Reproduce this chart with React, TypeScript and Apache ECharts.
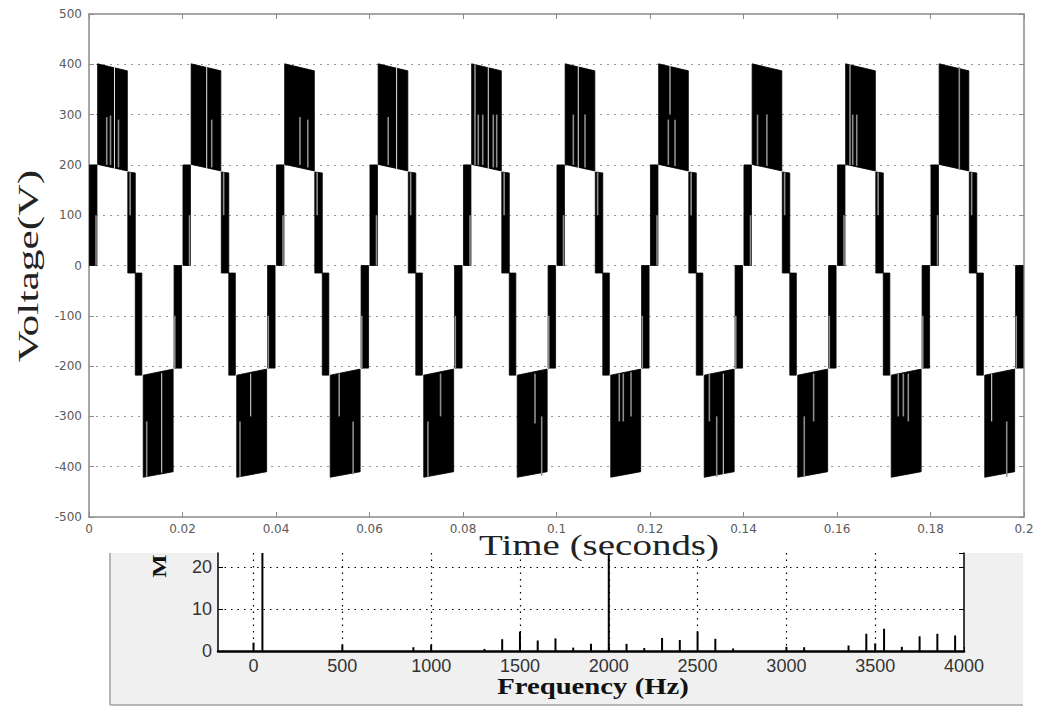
import React, { useEffect, useRef } from "react";
import * as echarts from "echarts";

// ---------- Top panel: 5-level inverter output voltage ----------
const cycleStarts = [0, 0.02, 0.04, 0.06, 0.08, 0.1, 0.12, 0.14, 0.16, 0.18];
// switching bands within one fundamental period:
// [tStart, tEnd, lowStart, highStart, lowEnd, highEnd]
const bandsPerCycle = [
  [0.0001, 0.0017, 0, 200, 0, 200],
  [0.00185, 0.0082, 201, 401, 188, 387],
  [0.0083, 0.0099, -15, 186, -15, 184],
  [0.0099, 0.0113, -218, -15, -218, -15],
  [0.0116, 0.018, -421, -218, -410, -206],
  [0.0182, 0.0198, -204, 0, -204, 0],
];
// light streaks at band edges, every cycle: [t, low, high, shade]
const edgeStreaks = [
  [0.0015, 0, 100, 0],
  [0.0088, 100, 185, 0],
  [0.01835, -204, -100, 0],
];
// streaks inside the +/-400 V blocks, per cycle: [t (in cycle), low, high, shade 0=gray 1=white]
const cycleStreaks = [
  [[0.00379, 200, 295, 0], [0.0046, 200, 298, 0], [0.00545, 192, 398, 1], [0.00631, 195, 290, 0], [0.01234, -420, -310, 0], [0.01555, -412, -214, 1]],
  [[0.00518, 192, 398, 1], [0.00625, 195, 290, 0], [0.0123, -420, -310, 0], [0.01459, -300, -215, 1]],
  [[0.00513, 200, 295, 1], [0.0068, 195, 290, 0], [0.0135, -300, -215, 1], [0.0165, -415, -310, 0]],
  [[0.004, 200, 295, 0], [0.0058, 192, 398, 1], [0.0125, -420, -310, 0], [0.0152, -300, -215, 0]],
  [[0.00257, 200, 400, 0], [0.00327, 200, 300, 0], [0.00422, 200, 300, 0], [0.00541, 192, 398, 1], [0.00648, 195, 300, 0], [0.00721, 195, 300, 0], [0.0154, -314, -215, 1], [0.01683, -418, -300, 0]],
  [[0.0036, 200, 300, 0], [0.00466, 192, 398, 1], [0.0061, 195, 300, 0], [0.01343, -310, -215, 0], [0.01429, -310, -215, 0], [0.01594, -300, -212, 0]],
  [[0.00392, 200, 290, 0], [0.00428, 300, 400, 1], [0.00535, 198, 290, 0], [0.0127, -310, -215, 0], [0.01427, -420, -300, 0], [0.01568, -418, -215, 1]],
  [[0.003, 200, 300, 0], [0.005, 198, 300, 0], [0.013, -420, -300, 0], [0.015, -310, -215, 0]],
  [[0.00278, 200, 400, 0], [0.00336, 200, 300, 0], [0.00422, 198, 300, 0], [0.01311, -300, -215, 0], [0.01419, -300, -215, 0], [0.01525, -310, -215, 0]],
  [[0.00616, 190, 395, 0], [0.01309, -310, -215, 1], [0.0163, -420, -310, 0]],
];

// ---------- Inset: harmonic spectrum ----------
const specFreq = [0, 50, 500, 900, 1000, 1300, 1400, 1500, 1600, 1700, 1800, 1900, 2000, 2100, 2200, 2300, 2400, 2500, 2600, 2700, 3000, 3100, 3350, 3450, 3500, 3550, 3650, 3750, 3850, 3950];
const specMag = [2.0, 100, 1.5, 0.9, 1.5, 0.5, 2.8, 4.6, 2.5, 3.0, 0.8, 1.7, 40, 1.7, 0.7, 3.1, 2.6, 4.6, 2.9, 0.6, 1.0, 0.9, 1.3, 4.1, 1.8, 5.3, 1.0, 3.5, 4.1, 3.7];

export default function App() {
  const ref = useRef<HTMLDivElement>(null);

  useEffect(() => {
    if (!ref.current) return;
    const chart = echarts.init(ref.current, null, { renderer: "svg" });

    const bandData: number[][] = [];
    cycleStarts.forEach((c) => {
      bandsPerCycle.forEach((b) => bandData.push([c + b[0], c + b[1], b[2], b[3], b[4], b[5]]));
    });
    const streakData: number[][] = [];
    cycleStarts.forEach((c, i) => {
      edgeStreaks.forEach((s) => streakData.push([c + s[0], s[1], s[2], s[3]]));
      (cycleStreaks[i] || []).forEach((s) => streakData.push([c + s[0], s[1], s[2], s[3]]));
    });

    const axisGray = "#8a8a8a";
    const topLabel = { color: "#5a5a5a", fontFamily: "DejaVu Sans", fontSize: 12 };
    const insetLabel = { color: "#333", fontFamily: "Liberation Sans", fontSize: 18 };
    const plain = (v: number) => String(v);

    const option: any = {
      animation: false,
      backgroundColor: "#fff",
      grid: [
        { left: 89, top: 14, width: 935, height: 503, containLabel: false },
        { left: 218, top: 553, width: 746, height: 98, containLabel: false },
      ],
      xAxis: [
        {
          type: "value", gridIndex: 0, min: 0, max: 0.2, interval: 0.02, position: "bottom",
          axisLine: { show: true, onZero: false, lineStyle: { color: axisGray, width: 1.5 } },
          axisTick: { show: true, inside: true, length: 5, lineStyle: { color: axisGray } },
          axisLabel: { ...topLabel, margin: 6 },
          splitLine: { show: false },
        },
        {
          type: "value", gridIndex: 0, min: 0, max: 0.2, interval: 0.02, position: "top",
          axisLine: { show: true, onZero: false, lineStyle: { color: axisGray, width: 1.5 } },
          axisTick: { show: true, inside: true, length: 5, lineStyle: { color: axisGray } },
          axisLabel: { show: false },
          splitLine: { show: false },
        },
        {
          type: "value", gridIndex: 1, min: -200, max: 4000, minInterval: 500, maxInterval: 500, position: "bottom",
          axisLine: { show: true, onZero: false, lineStyle: { color: "#000", width: 2.5 } },
          axisTick: { show: true, inside: true, length: 4, lineStyle: { color: "#000" } },
          axisLabel: { ...insetLabel, margin: 6, showMinLabel: false, formatter: plain },
          splitLine: { show: true, showMinLine: false, showMaxLine: false, lineStyle: { color: "#000", type: [1.5, 5], width: 1.2 } },
        },
      ],
      yAxis: [
        {
          type: "value", gridIndex: 0, min: -500, max: 500, interval: 100, position: "left",
          axisLine: { show: true, onZero: false, lineStyle: { color: axisGray, width: 1.5 } },
          axisTick: { show: true, inside: true, length: 5, lineStyle: { color: axisGray } },
          axisLabel: { ...topLabel, margin: 7 },
          splitLine: { show: true, showMinLine: false, showMaxLine: false, lineStyle: { color: "#999", type: [2, 5], width: 1.2 } },
        },
        {
          type: "value", gridIndex: 0, min: -500, max: 500, interval: 100, position: "right",
          axisLine: { show: true, onZero: false, lineStyle: { color: axisGray, width: 1.5 } },
          axisTick: { show: true, inside: true, length: 5, lineStyle: { color: axisGray } },
          axisLabel: { show: false },
          splitLine: { show: false },
        },
        {
          type: "value", gridIndex: 1, min: 0, max: 23.3, interval: 10, position: "left",
          axisLine: { show: true, onZero: false, lineStyle: { color: "#000", width: 1.5 } },
          axisTick: { show: true, inside: true, length: 5, lineStyle: { color: "#000" } },
          axisLabel: { ...insetLabel, margin: 6, showMaxLabel: false, formatter: plain },
          splitLine: { show: true, showMinLine: false, showMaxLine: false, lineStyle: { color: "#000", type: [1.5, 5], width: 1.2 } },
        },
        {
          type: "value", gridIndex: 1, min: 0, max: 23.3, interval: 10, position: "right",
          axisLine: { show: true, onZero: false, lineStyle: { color: "#000", width: 1.5 } },
          axisTick: { show: true, inside: true, length: 5, lineStyle: { color: "#000" } },
          axisLabel: { show: false },
          splitLine: { show: false },
        },
      ],
      graphic: [
        { type: "rect", z: -10, shape: { x: 110, y: 553, width: 913, height: 152 }, style: { fill: "#f0f0f0" }, silent: true },
        { type: "rect", z: -9, shape: { x: 218, y: 553, width: 746, height: 98 }, style: { fill: "#ffffff" }, silent: true },
        { type: "line", z: -8, shape: { x1: 110, y1: 553, x2: 110, y2: 705 }, style: { stroke: "#a0a0a0", lineWidth: 1.5 }, silent: true },
        { type: "line", z: -8, shape: { x1: 110, y1: 705, x2: 1023, y2: 705 }, style: { stroke: "#a0a0a0", lineWidth: 1.5 }, silent: true },
        {
          type: "text", z: 20, x: 28, y: 266, rotation: Math.PI / 2, scaleX: 1.45,
          style: { text: "Voltage(V)", font: '30px "Liberation Serif"', fill: "#222", textAlign: "center", textVerticalAlign: "middle" },
        },
        {
          type: "text", z: 20, x: 599, y: 545, scaleX: 1.3,
          style: { text: "Time (seconds)", font: '30px "Liberation Serif"', fill: "#222", textAlign: "center", textVerticalAlign: "middle" },
        },
        {
          type: "text", z: 20, x: 593, y: 686, scaleX: 1.25,
          style: { text: "Frequency (Hz)", font: 'bold 23px "Liberation Serif"', fill: "#111", textAlign: "center", textVerticalAlign: "middle" },
        },
        {
          type: "text", z: 20, x: 160, y: 566, rotation: Math.PI / 2, scaleX: 1.3,
          style: { text: "M", font: 'bold 19px "Liberation Serif"', fill: "#111", textAlign: "center", textVerticalAlign: "middle" },
        },
      ],
      series: [
        {
          type: "custom", xAxisIndex: 0, yAxisIndex: 0, data: bandData, clip: true,
          renderItem: (params: any, api: any) => {
            const t0 = api.value(0), t1 = api.value(1);
            const pts = [
              api.coord([t0, api.value(3)]),
              api.coord([t1, api.value(5)]),
              api.coord([t1, api.value(4)]),
              api.coord([t0, api.value(2)]),
            ];
            return { type: "polygon", shape: { points: pts }, style: { fill: "#000", stroke: "#000", lineWidth: 0.8 } };
          },
        },
        {
          type: "custom", xAxisIndex: 0, yAxisIndex: 0, data: streakData, clip: true, z: 3,
          renderItem: (params: any, api: any) => {
            const a = api.coord([api.value(0), api.value(1)]);
            const b = api.coord([api.value(0), api.value(2)]);
            const white = api.value(3) === 1;
            return {
              type: "line",
              shape: { x1: a[0], y1: a[1], x2: b[0], y2: b[1] },
              style: { stroke: white ? "#e6e6e6" : "#8c8c8c", lineWidth: white ? 1 : 1.6 },
            };
          },
        },
        {
          type: "bar", xAxisIndex: 2, yAxisIndex: 2, barWidth: 2,
          data: specFreq.map((f, i) => [f, specMag[i]]),
          itemStyle: { color: "#000" },
        },
      ],
    };

    chart.setOption(option);
    return () => chart.dispose();
  }, []);

  return (
    <div
      ref={ref}
      style={{ position: "absolute", left: 0, top: 0, width: 1041, height: 709 }}
    />
  );
}
